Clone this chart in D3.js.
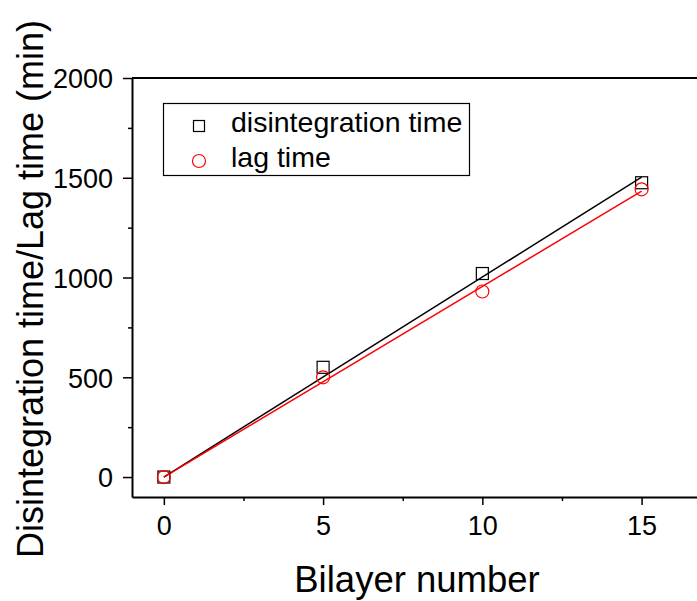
<!DOCTYPE html>
<html>
<head>
<meta charset="utf-8">
<script src="https://cdn.jsdelivr.net/npm/d3@7"></script>
<style>
  body { margin: 0; background: #fff; }
  text { font-family: "Liberation Sans", Arial, sans-serif; fill: #000; }
</style>
</head>
<body>
<svg id="chart" width="697" height="601"></svg>
<script>
const bilayers = [0, 5, 10, 15];
const disintegration = [0, 550, 1020, 1475];
const lagTime = [0, 500, 930, 1442];
const xTicks = [0, 5, 10, 15];
const yTicks = [0, 500, 1000, 1500, 2000];

const svg = d3.select("#chart");

// plot frame (right side runs off the window like the original)
const plotLeft = 132, plotTop = 78, plotBottom = 497;

const x = d3.scaleLinear().domain([-1, 17]).range([plotLeft, plotLeft + 18 * 31.85]);
const y = d3.scaleLinear().domain([-100, 2000]).range([plotBottom, plotTop]);

// linear fit through the origin, drawn over 0..15
function fitSlope(xs, ys) {
  return d3.sum(xs, (v, i) => v * ys[i]) / d3.sum(xs, v => v * v);
}

// axes
const xAxis = svg.append("g")
  .attr("transform", `translate(0,${plotBottom})`)
  .call(d3.axisBottom(x).tickValues(xTicks).tickFormat(d3.format("d"))
    .tickSize(8).tickPadding(11).tickSizeOuter(0));
svg.append("g")
  .attr("transform", `translate(0,${plotBottom})`)
  .call(d3.axisBottom(x).tickValues([2.5, 7.5, 12.5, 17.5]).tickSize(4).tickFormat("").tickSizeOuter(0))
  .select(".domain").remove();

const yAxis = svg.append("g")
  .attr("transform", `translate(${plotLeft},0)`)
  .call(d3.axisLeft(y).tickValues(yTicks).tickFormat(d3.format("d"))
    .tickSize(9).tickPadding(10).tickSizeOuter(0));
svg.append("g")
  .attr("transform", `translate(${plotLeft},0)`)
  .call(d3.axisLeft(y).tickValues([250, 750, 1250, 1750]).tickSize(4).tickFormat(""))
  .select(".domain").remove();

svg.selectAll(".domain").attr("stroke-width", 2);
svg.selectAll(".tick line").attr("stroke-width", 1.5);
xAxis.selectAll("text").style("font-size", "27px");
yAxis.selectAll("text").style("font-size", "27px").attr("dy", "0.36em");

// top frame line
svg.append("line")
  .attr("x1", plotLeft).attr("x2", 697)
  .attr("y1", plotTop).attr("y2", plotTop)
  .attr("stroke", "#000").attr("stroke-width", 2);

// fit lines
const series = [
  { name: "disintegration time", values: disintegration, color: "#000" },
  { name: "lag time", values: lagTime, color: "#ff0000" }
];

series.forEach(s => {
  const b = fitSlope(bilayers, s.values);
  svg.append("line")
    .attr("x1", x(0)).attr("y1", y(0))
    .attr("x2", x(15)).attr("y2", y(b * 15))
    .attr("stroke", s.color).attr("stroke-width", 1.5);
});

// markers
svg.selectAll("rect.pt")
  .data(bilayers.map((b, i) => [b, disintegration[i]]))
  .enter().append("rect")
    .attr("class", "pt")
    .attr("x", d => x(d[0]) - 6)
    .attr("y", d => y(d[1]) - 6)
    .attr("width", 12).attr("height", 12)
    .attr("fill", "none").attr("stroke", "#000").attr("stroke-width", 1.2);

svg.selectAll("circle.pt")
  .data(bilayers.map((b, i) => [b, lagTime[i]]))
  .enter().append("circle")
    .attr("class", "pt")
    .attr("cx", d => x(d[0]))
    .attr("cy", d => y(d[1]))
    .attr("r", 6.5)
    .attr("fill", "none").attr("stroke", "#ff0000").attr("stroke-width", 1.2);

// legend
const lg = svg.append("g");
lg.append("rect")
  .attr("x", 163.5).attr("y", 103.5).attr("width", 306).attr("height", 72)
  .attr("fill", "none").attr("stroke", "#000").attr("stroke-width", 1.2);
lg.append("rect")
  .attr("x", 193.5).attr("y", 120.5).attr("width", 11).attr("height", 11)
  .attr("fill", "none").attr("stroke", "#000").attr("stroke-width", 1.2);
lg.append("circle")
  .attr("cx", 199).attr("cy", 161).attr("r", 6.5)
  .attr("fill", "none").attr("stroke", "#ff0000").attr("stroke-width", 1.2);
lg.selectAll("text.lab")
  .data(series)
  .enter().append("text")
    .attr("class", "lab")
    .attr("x", 231)
    .attr("y", (d, i) => 132 + i * 35)
    .style("font-size", "28.5px")
    .text(d => d.name);

// axis titles
svg.append("text")
  .attr("x", 417).attr("y", 592)
  .attr("text-anchor", "middle")
  .style("font-size", "36.5px")
  .text("Bilayer number");

svg.append("text")
  .attr("transform", "translate(43,289) rotate(-90)")
  .attr("text-anchor", "middle")
  .style("font-size", "36px")
  .text("Disintegration time/Lag time (min)");
</script>
</body>
</html>
